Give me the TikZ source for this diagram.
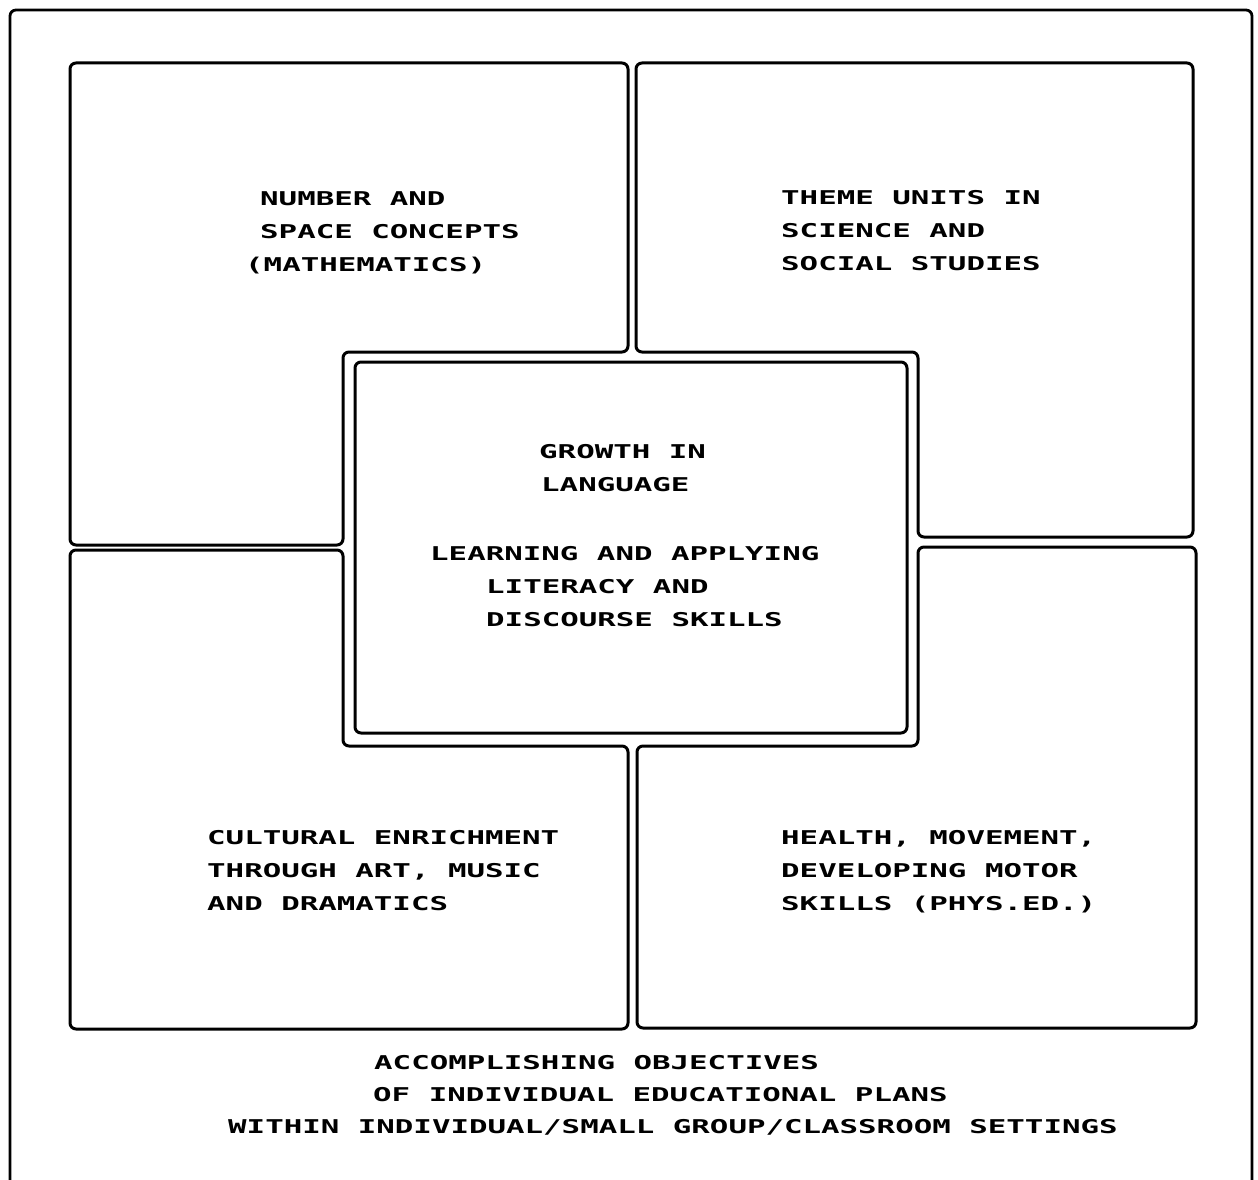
\documentclass[tikz,border=0pt]{standalone}
\usepackage{fontspec}
\newfontfamily\typw{DejaVu Sans Mono}[FakeStretch=1.62]
\begin{document}
\begin{tikzpicture}[x=1pt,y=-1pt,
  box/.style={line width=3pt, rounded corners=6pt},
  frame/.style={line width=2.8pt, rounded corners=6pt},
  txt/.style={anchor=base west, inner sep=0pt, font=\typw\bfseries\fontsize{19}{33}\selectfont}]
\useasboundingbox (0,0) rectangle (1258,1180);
% outer frame (open at the bottom)
\draw[frame] (10,1180) -- (10,10) -- (1252,10) -- (1252,1180);
% four L-shaped quadrant boxes
\draw[box] (70,63) -- (628,63) -- (628,352) -- (343,352) -- (343,545) -- (70,545) -- cycle;
\draw[box] (636,63) -- (1193,63) -- (1193,537) -- (918,537) -- (918,352) -- (636,352) -- cycle;
\draw[box] (70,550) -- (343,550) -- (343,746) -- (628,746) -- (628,1029) -- (70,1029) -- cycle;
\draw[box] (918,547) -- (1196,547) -- (1196,1028) -- (637,1028) -- (637,746) -- (918,746) -- cycle;
% inner centre box
\draw[box] (355,362) rectangle (907,733);
% top-left
\node[txt] (tl1) at (260,205) {NUMBER AND};
\node[txt] (tl2) at (260,238) {SPACE CONCEPTS};
\node[txt] (tl3) at (245,271) {(MATHEMATICS)};
% top-right
\node[txt] (tr1) at (781,204) {THEME UNITS IN};
\node[txt] (tr2) at (781,237) {SCIENCE AND};
\node[txt] (tr3) at (781,270) {SOCIAL STUDIES};
% centre
\node[txt] (c1) at (539,458) {GROWTH IN};
\node[txt] (c2) at (541,491) {LANGUAGE};
\node[txt] (c3) at (430,560) {LEARNING AND APPLYING};
\node[txt] (c4) at (486,593) {LITERACY AND};
\node[txt] (c5) at (486,626) {DISCOURSE SKILLS};
% bottom-left
\node[txt] (bl1) at (207,844) {CULTURAL ENRICHMENT};
\node[txt] (bl2) at (207,877) {THROUGH ART, MUSIC};
\node[txt] (bl3) at (207,910) {AND DRAMATICS};
% bottom-right
\node[txt] (br1) at (781,844) {HEALTH, MOVEMENT,};
\node[txt] (br2) at (781,877) {DEVELOPING MOTOR};
\node[txt] (br3) at (781,910) {SKILLS (PHYS.ED.)};
% bottom caption
\node[txt] (b1) at (374,1069) {ACCOMPLISHING OBJECTIVES};
\node[txt] (b2) at (373,1101) {OF INDIVIDUAL EDUCATIONAL PLANS};
\node[txt] (b3) at (228,1133) {WITHIN INDIVIDUAL/SMALL GROUP/CLASSROOM SETTINGS};
\end{tikzpicture}
\end{document}
